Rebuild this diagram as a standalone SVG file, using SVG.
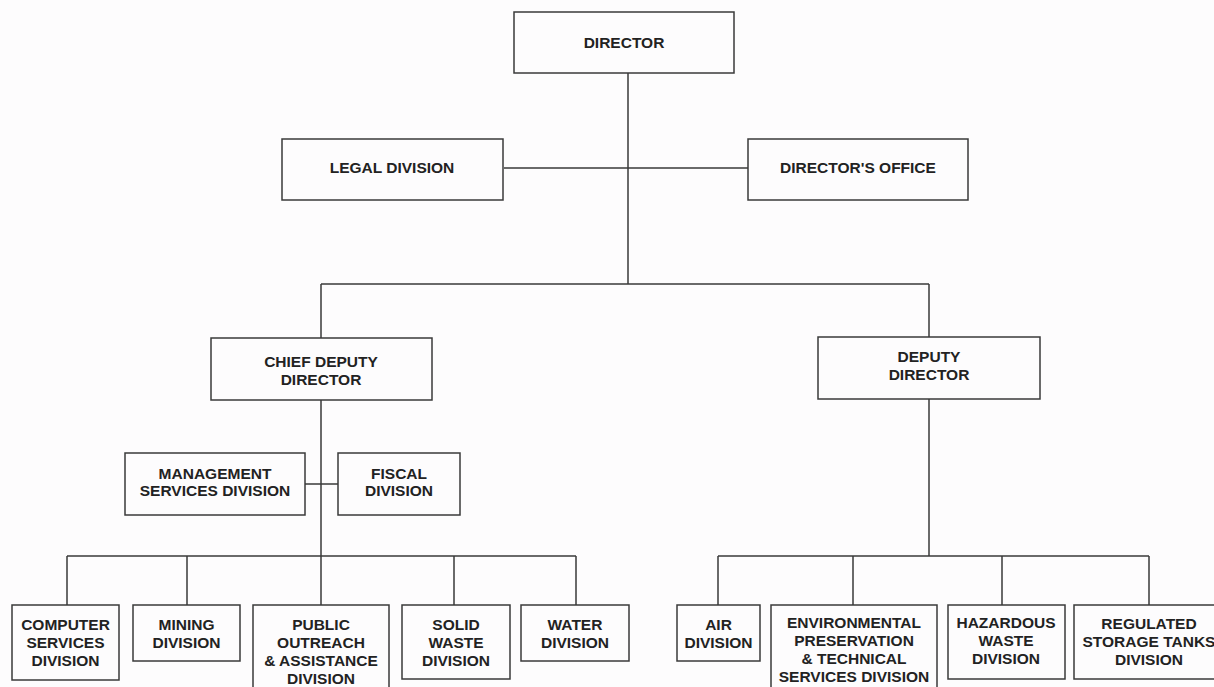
<svg xmlns="http://www.w3.org/2000/svg" width="1214" height="687" viewBox="0 0 1214 687">
<style>
.bg{fill:#fdfcfd}
.box{fill:#fdfcfd;stroke:#3a3a3a;stroke-width:1.5}
.ln{fill:none;stroke:#3a3a3a;stroke-width:1.5}
text{font-family:"Liberation Sans",Arial,sans-serif;font-weight:bold;font-size:15.5px;fill:#222;text-anchor:middle}
</style>
<rect class="bg" x="0" y="0" width="1214" height="687"/>
<g id="connectors">
<path class="ln" d="M628 73V284M504 168H748M321 284H929M321 284V338M929 284V337"/>
<path class="ln" d="M321 400V556M305 484H338M67 556H576M67 556V605M187 556V605M321 556V605M454 556V605M576 556V605"/>
<path class="ln" d="M929 399V556M718 556H1149M718 556V605M853 556V605M1002 556V605M1149 556V605"/>
</g>
<g id="director"><rect class="box" x="514" y="12" width="220" height="61"/><text x="624" y="48">DIRECTOR</text></g>
<g id="legal"><rect class="box" x="282" y="139" width="221" height="61"/><text x="392" y="173">LEGAL DIVISION</text></g>
<g id="directors-office"><rect class="box" x="748" y="139" width="220" height="61"/><text x="858" y="173">DIRECTOR'S OFFICE</text></g>
<g id="chief-deputy"><rect class="box" x="211" y="338" width="221" height="62"/><text x="321" y="367">CHIEF DEPUTY</text><text x="321" y="385">DIRECTOR</text></g>
<g id="deputy"><rect class="box" x="818" y="337" width="222" height="62"/><text x="929" y="362">DEPUTY</text><text x="929" y="380">DIRECTOR</text></g>
<g id="management"><rect class="box" x="125" y="453" width="180" height="62"/><text x="215" y="479">MANAGEMENT</text><text x="215" y="496">SERVICES DIVISION</text></g>
<g id="fiscal"><rect class="box" x="338" y="453" width="122" height="62"/><text x="399" y="479">FISCAL</text><text x="399" y="496">DIVISION</text></g>
<g id="computer"><rect class="box" x="12" y="605" width="107" height="75"/><text x="65.5" y="630">COMPUTER</text><text x="65.5" y="648">SERVICES</text><text x="65.5" y="666">DIVISION</text></g>
<g id="mining"><rect class="box" x="133" y="605" width="107" height="56"/><text x="186.5" y="630">MINING</text><text x="186.5" y="648">DIVISION</text></g>
<g id="public"><rect class="box" x="253" y="605" width="136" height="92"/><text x="321" y="630">PUBLIC</text><text x="321" y="648">OUTREACH</text><text x="321" y="666">&amp; ASSISTANCE</text><text x="321" y="684">DIVISION</text></g>
<g id="solid-waste"><rect class="box" x="402" y="605" width="108" height="74"/><text x="456" y="630">SOLID</text><text x="456" y="648">WASTE</text><text x="456" y="666">DIVISION</text></g>
<g id="water"><rect class="box" x="521" y="605" width="108" height="56"/><text x="575" y="630">WATER</text><text x="575" y="648">DIVISION</text></g>
<g id="air"><rect class="box" x="677" y="605" width="83" height="56"/><text x="718.5" y="630">AIR</text><text x="718.5" y="648">DIVISION</text></g>
<g id="environmental"><rect class="box" x="771" y="605" width="166" height="92"/><text x="854" y="628">ENVIRONMENTAL</text><text x="854" y="646">PRESERVATION</text><text x="854" y="664">&amp; TECHNICAL</text><text x="854" y="682">SERVICES DIVISION</text></g>
<g id="hazardous"><rect class="box" x="948" y="605" width="117" height="74"/><text x="1006" y="628">HAZARDOUS</text><text x="1006" y="646">WASTE</text><text x="1006" y="664">DIVISION</text></g>
<g id="regulated"><rect class="box" x="1074" y="605" width="150" height="74"/><text x="1149" y="629">REGULATED</text><text x="1149" y="647">STORAGE TANKS</text><text x="1149" y="665">DIVISION</text></g>
</svg>
